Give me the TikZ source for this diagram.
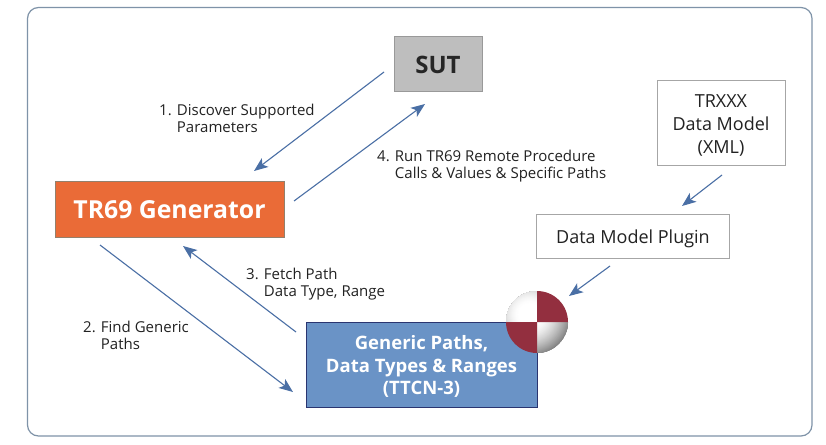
\documentclass[tikz,border=0pt]{standalone}
\usepackage{fontspec}
\setmainfont{Open Sans}
\usetikzlibrary{arrows.meta}
\definecolor{frameC}{HTML}{7F93A8}
\definecolor{arrowC}{HTML}{4A6FA5}
\definecolor{orangeC}{HTML}{EA6B37}
\definecolor{blueC}{HTML}{6A93C6}
\definecolor{navyC}{HTML}{2A3570}
\definecolor{redC}{HTML}{932F3F}
\definecolor{sutC}{HTML}{BEBEBE}
\definecolor{textC}{HTML}{222222}
% extends the box upward by #1, which moves the centred text down by half of that
\newcommand{\lowered}[2]{\raisebox{0pt}[\dimexpr\height+#1\relax][\depth]{#2}}
\tikzset{
  box/.style={draw, anchor=center, inner sep=0pt, align=center},
  flow/.style={draw=arrowC, line width=1.1pt, -{Stealth[length=14pt,width=11pt,inset=3.5pt]}},
  lab/.style={anchor=north west, align=left, inner sep=0pt, font=\fontsize{15}{17}\selectfont, text=textC},
}
\begin{document}
\begin{tikzpicture}[x=1pt,y=-1pt]
\useasboundingbox (0,0) rectangle (826,444);
\fill[white] (0,0) rectangle (826,444);
\draw[frameC, line width=1.2pt, rounded corners=11pt] (27.5,7.5) rectangle (812,436);

\node[box, draw=gray!80, fill=sutC, minimum width=88pt, minimum height=55pt, font=\fontsize{24}{28}\selectfont\bfseries, text=black!85] (sut) at (438,63.5) {\lowered{2pt}{SUT}};
\node[box, draw=gray!70!brown, fill=orangeC, minimum width=229pt, minimum height=56pt, font=\fontsize{24.8}{28}\selectfont\bfseries, text=white] (gen) at (169.5,209) {\lowered{2pt}{TR69 Generator}};
\node[box, draw=gray!70, fill=white, minimum width=127.5pt, minimum height=85pt, font=\fontsize{18}{22.7}\selectfont, text=textC] (xml) at (721,122.5) {\lowered{6pt}{\parbox[c]{120pt}{\centering TRXXX\\Data Model\\(XML)}}};
\node[box, draw=gray!70, fill=white, minimum width=193pt, minimum height=44pt, font=\fontsize{18}{20}\selectfont, text=textC] (plugin) at (633,236) {\lowered{5pt}{Data Model Plugin}};
\node[box, draw=navyC, fill=blueC, minimum width=231pt, minimum height=85pt, font=\fontsize{18.5}{22.5}\selectfont\bfseries, text=white] (paths) at (421.5,364.5) {\lowered{4pt}{\parbox[c]{225pt}{\centering Generic Paths,\\Data Types \& Ranges\\(TTCN-3)}}};

% sphere: light centre up and to the left of the middle, drawn as rings
\coordinate (ballc) at (537,322);
\begin{scope}
  \clip (506,291) rectangle (537,322) (537,322) rectangle (568,353);
  \clip (ballc) circle (31);
  \foreach \d in {42,41.5,...,11}{
    \pgfmathsetmacro{\shadeval}{100-50*((\d-11)/31)^1.6}
    \fill[white!\shadeval!black] (529.5,314.5) circle (\d);
  }
\end{scope}
\fill[redC] (ballc) -- (537,291) arc[start angle=-90, end angle=0, radius=31] -- cycle;
\fill[redC] (ballc) -- (537,353) arc[start angle=90, end angle=180, radius=31] -- cycle;

% free ends
\coordinate (a1s) at (384,72);  \coordinate (a1e) at (254,171);
\coordinate (a4s) at (294,201); \coordinate (a4e) at (425,104);
\coordinate (a2s) at (100,245); \coordinate (a2e) at (293,392);
\coordinate (a3s) at (296,332); \coordinate (a3e) at (183,246);
\coordinate (a5s) at (722,175); \coordinate (a5e) at (682,206);
\coordinate (a6s) at (610,266); \coordinate (a6e) at (569,296);
\draw[flow] (a1s) -- (a1e);
\draw[flow] (a4s) -- (a4e);
\draw[flow] (a2s) -- (a2e);
\draw[flow] (a3s) -- (a3e);
\draw[flow] (a5s) -- (a5e);
\draw[flow] (a6s) -- (a6e);

\node[lab] (l1) at (159,103.5) {1. Discover Supported\\\phantom{1. }Parameters};
\node[lab] (l4) at (377,150) {4. Run TR69 Remote Procedure\\\phantom{4. }Calls \& Values \& Specific Paths};
\node[lab] (l2) at (83,321) {2. Find Generic\\\phantom{2. }Paths};
\node[lab] (l3) at (246,267.5) {3. Fetch Path\\\phantom{3. }Data Type, Range};
\end{tikzpicture}
\end{document}
